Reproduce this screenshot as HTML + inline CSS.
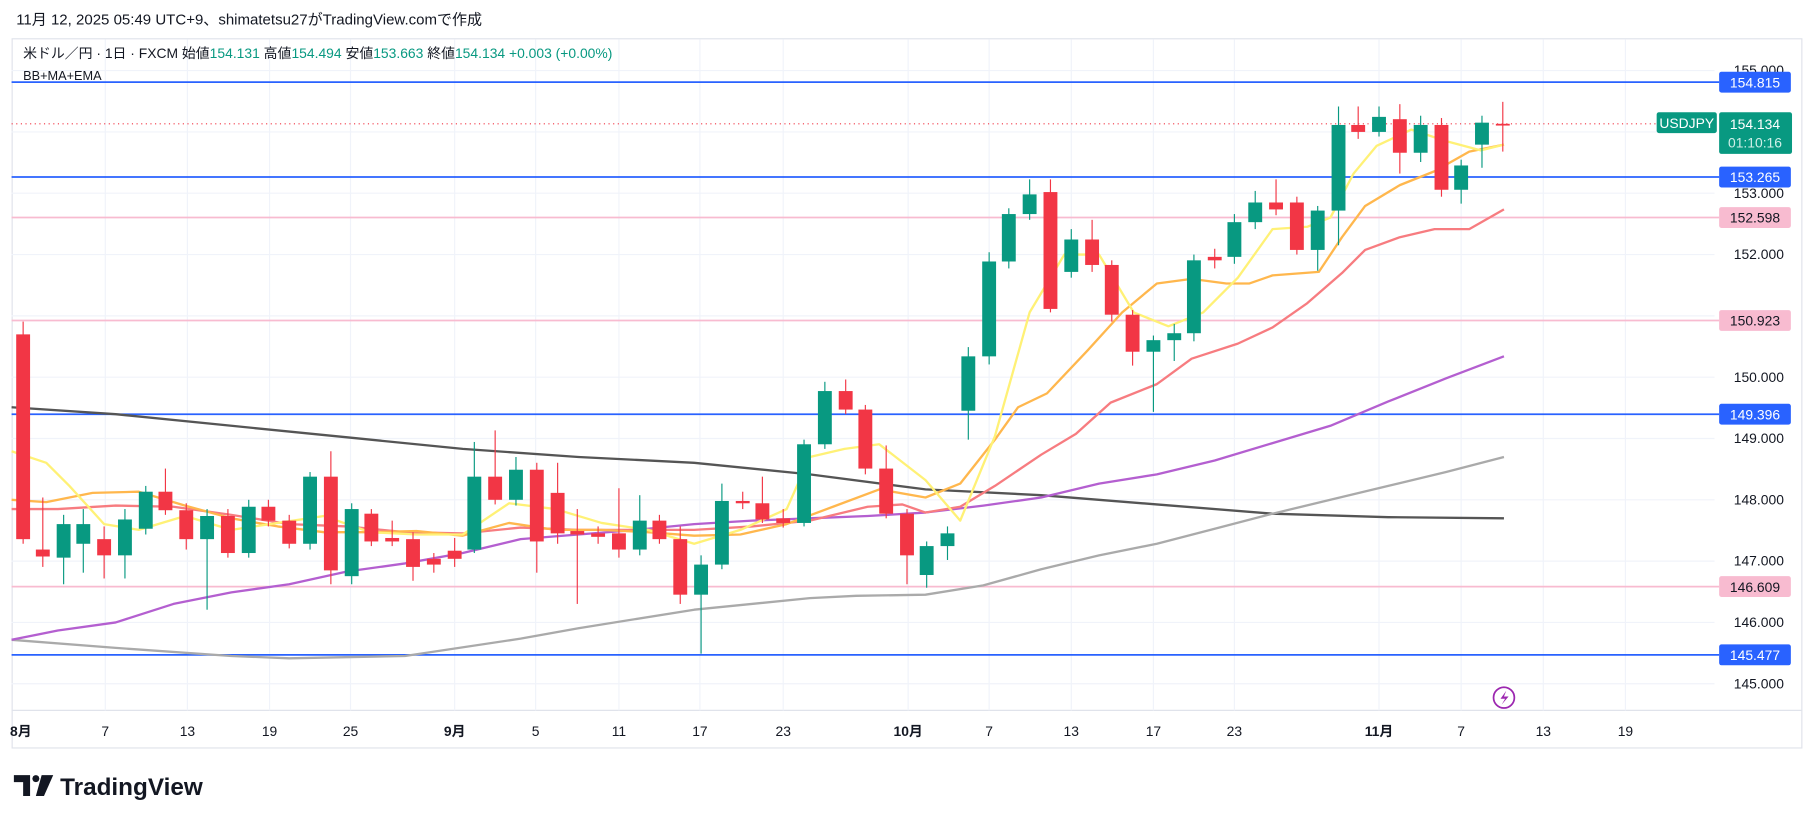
<!DOCTYPE html>
<html><head><meta charset="utf-8"><style>
html,body{margin:0;padding:0;background:#fff;}
svg{display:block;}
text{font-family:"Liberation Sans","Noto Sans CJK JP",sans-serif;}
</style></head><body>
<svg width="1814" height="824" viewBox="0 0 1568 712.2" xmlns="http://www.w3.org/2000/svg">
<rect width="1568" height="712.2" fill="#fff"/>
<text x="14" y="21" font-size="13" fill="#131722">11月 12, 2025 05:49 UTC+9、shimatetsu27がTradingView.comで作成</text>
<rect x="10.5" y="33.5" width="1547" height="613" fill="none" stroke="#e0e3eb"/>
<line x1="10" y1="614" x2="1558" y2="614" stroke="#e0e3eb"/>
<g stroke="#f0f3fa" stroke-width="1">
<line x1="10" y1="61" x2="1482" y2="61"/><line x1="10" y1="114" x2="1482" y2="114"/><line x1="10" y1="167" x2="1482" y2="167"/><line x1="10" y1="220" x2="1482" y2="220"/><line x1="10" y1="273" x2="1482" y2="273"/><line x1="10" y1="326" x2="1482" y2="326"/><line x1="10" y1="379" x2="1482" y2="379"/><line x1="10" y1="432" x2="1482" y2="432"/><line x1="10" y1="485" x2="1482" y2="485"/><line x1="10" y1="538" x2="1482" y2="538"/><line x1="10" y1="591" x2="1482" y2="591"/>
<line x1="91" y1="34" x2="91" y2="614"/><line x1="162" y1="34" x2="162" y2="614"/><line x1="233" y1="34" x2="233" y2="614"/><line x1="303" y1="34" x2="303" y2="614"/><line x1="393" y1="34" x2="393" y2="614"/><line x1="463" y1="34" x2="463" y2="614"/><line x1="535" y1="34" x2="535" y2="614"/><line x1="605" y1="34" x2="605" y2="614"/><line x1="677" y1="34" x2="677" y2="614"/><line x1="785" y1="34" x2="785" y2="614"/><line x1="855" y1="34" x2="855" y2="614"/><line x1="926" y1="34" x2="926" y2="614"/><line x1="997" y1="34" x2="997" y2="614"/><line x1="1067" y1="34" x2="1067" y2="614"/><line x1="1192" y1="34" x2="1192" y2="614"/><line x1="1263" y1="34" x2="1263" y2="614"/><line x1="1334" y1="34" x2="1334" y2="614"/><line x1="1405" y1="34" x2="1405" y2="614"/>
</g>
<text x="20" y="50" font-size="12" fill="#131722">米ドル／円 · 1日 · FXCM  始値<tspan fill="#089981">154.131</tspan>  高値<tspan fill="#089981">154.494</tspan>  安値<tspan fill="#089981">153.663</tspan>  終値<tspan fill="#089981">154.134  +0.003 (+0.00%)</tspan></text>
<text x="20" y="69" font-size="11" fill="#131722">BB+MA+EMA</text>
<g stroke-width="1.5">
<line x1="10" y1="71" x2="1486" y2="71" stroke="#2962ff"/>
<line x1="10" y1="153" x2="1486" y2="153" stroke="#2962ff"/>
<line x1="10" y1="358" x2="1486" y2="358" stroke="#2962ff"/>
<line x1="10" y1="566" x2="1486" y2="566" stroke="#2962ff"/>
<line x1="10" y1="188" x2="1486" y2="188" stroke="#f8bbd0"/>
<line x1="10" y1="277" x2="1486" y2="277" stroke="#f8bbd0"/>
<line x1="10" y1="507" x2="1486" y2="507" stroke="#f8bbd0"/>
</g>
<line x1="10" y1="107" x2="1486" y2="107" stroke="#f23645" stroke-dasharray="1,3" stroke-width="1"/>
<g fill="none" stroke-width="2" stroke-linejoin="round">
<polyline stroke="#555" points="10,352 100,358 200,368 300,378 400,388 500,395 600,400 700,410 800,423 900,428 1000,436 1100,444 1200,447 1300,448"/>
<polyline stroke="#aaa" points="10,553 100,560 200,567 250,569 350,567 450,552 500,543 600,527 700,517 740,515 800,514 850,506 900,492 950,480 1000,470 1050,457 1100,444 1150,432 1200,420 1250,408 1300,395"/>
<polyline stroke="#b45fd0" points="10,553 50,545 100,538 150,522 200,512 250,505 300,494 350,487 400,478 450,466 500,462 550,458 600,453 650,450 700,448 750,446 800,443 850,437 900,430 950,418 1000,410 1050,398 1100,383 1150,368 1200,347 1250,327 1300,308"/>
<polyline stroke="#f77c80" points="10,440 50,440 100,437 150,438 200,445 250,453 300,455 350,460 400,461 450,456 500,458 550,458 600,458 650,455 700,450 750,438 780,436 800,443 830,438 860,420 900,393 930,375 960,348 1000,332 1030,310 1070,297 1100,283 1130,262 1160,236 1180,216 1210,205 1240,198 1270,198 1300,181"/>
<polyline stroke="#ffb74d" points="10,432 40,434 80,426 120,425 160,437 200,448 240,455 280,460 320,460 360,459 400,463 440,452 480,458 520,458 560,460 600,463 640,462 680,453 720,438 760,423 800,430 830,418 860,380 880,352 905,340 940,303 970,270 1000,245 1030,241 1060,245 1080,245 1100,238 1140,235 1160,205 1180,178 1210,160 1240,148 1270,131 1300,125"/>
<polyline stroke="#fff176" points="10,390 40,400 60,420 90,453 120,458 160,446 200,458 240,452 280,446 320,460 360,462 400,462 440,435 480,440 520,452 560,458 600,470 640,458 680,440 700,395 730,388 760,384 800,415 830,450 860,377 890,270 920,220 950,220 980,270 1010,282 1040,270 1070,240 1100,198 1130,196 1150,188 1170,150 1190,126 1220,112 1250,122 1280,130 1300,125"/>
</g>
<g id="c"></g>
<g font-size="12" fill="#131722" text-anchor="end">
<text x="1542" y="65">155.000</text><text x="1542" y="171">153.000</text><text x="1542" y="224">152.000</text><text x="1542" y="330">150.000</text><text x="1542" y="383">149.000</text><text x="1542" y="436">148.000</text><text x="1542" y="489">147.000</text><text x="1542" y="542">146.000</text><text x="1542" y="595">145.000</text>
</g>
<rect x="1486" y="62" width="62" height="18" rx="2" fill="#2962ff"/><text x="1517" y="75.5" font-size="12" fill="#fff" text-anchor="middle">154.815</text>
<rect x="1486" y="144" width="62" height="18" rx="2" fill="#2962ff"/><text x="1517" y="157.5" font-size="12" fill="#fff" text-anchor="middle">153.265</text>
<rect x="1486" y="349" width="62" height="18" rx="2" fill="#2962ff"/><text x="1517" y="362.5" font-size="12" fill="#fff" text-anchor="middle">149.396</text>
<rect x="1486" y="557" width="62" height="18" rx="2" fill="#2962ff"/><text x="1517" y="570.5" font-size="12" fill="#fff" text-anchor="middle">145.477</text>
<rect x="1486" y="179" width="62" height="18" rx="2" fill="#f8bbd0"/><text x="1517" y="192.5" font-size="12" fill="#131722" text-anchor="middle">152.598</text>
<rect x="1486" y="268" width="62" height="18" rx="2" fill="#f8bbd0"/><text x="1517" y="281.5" font-size="12" fill="#131722" text-anchor="middle">150.923</text>
<rect x="1486" y="498" width="62" height="18" rx="2" fill="#f8bbd0"/><text x="1517" y="511.5" font-size="12" fill="#131722" text-anchor="middle">146.609</text>
<rect x="1486" y="97" width="63" height="36" rx="2" fill="#089981"/><text x="1517" y="111.5" font-size="12" fill="#fff" text-anchor="middle">154.134</text><text x="1517" y="127.5" font-size="12" fill="#d0efe8" text-anchor="middle">01:10:16</text>
<rect x="1432" y="97" width="52" height="18" rx="2" fill="#089981"/><text x="1458" y="110.5" font-size="12" fill="#fff" text-anchor="middle">USDJPY</text>
<g font-size="12" fill="#131722" text-anchor="middle">
<text x="18" y="636" font-weight="bold">8月</text><text x="91" y="636">7</text><text x="162" y="636">13</text><text x="233" y="636">19</text><text x="303" y="636">25</text><text x="393" y="636" font-weight="bold">9月</text><text x="463" y="636">5</text><text x="535" y="636">11</text><text x="605" y="636">17</text><text x="677" y="636">23</text><text x="785" y="636" font-weight="bold">10月</text><text x="855" y="636">7</text><text x="926" y="636">13</text><text x="997" y="636">17</text><text x="1067" y="636">23</text><text x="1192" y="636" font-weight="bold">11月</text><text x="1263" y="636">7</text><text x="1334" y="636">13</text><text x="1405" y="636">19</text>
</g>
<circle cx="1300" cy="603" r="9" fill="none" stroke="#9c27b0" stroke-width="1.5"/><path d="M1302,597 L1297,604 L1301,604 L1298,609 L1304,602 L1300,602 Z" fill="#9c27b0"/>
<path d="M12,670 h14 v18 h-6 v-12 h-8 z" fill="#131722"/><circle cx="31" cy="673" r="3" fill="#131722"/><path d="M36,670 h10 l-8,18 h-7 z" fill="#131722"/>
<text x="52" y="687" font-size="21" font-weight="bold" fill="#131722">TradingView</text>
</svg>
<script>
var d=[[20,289,466,278,470],[37,475,481,430,490],[55,482,453,445,505],[72,470,453,440,495],[90,466,480,455,500],[108,480,449,440,500],[126,457,425,420,462],[143,425,441,405,445],[161,441,466,435,475],[179,466,446,440,527],[197,446,478,440,482],[215,478,438,432,482],[232,438,450,432,455],[250,450,470,445,474],[268,470,412,408,475],[286,412,493,390,505],[304,498,440,435,505],[321,444,468,440,472],[339,465,468,450,472],[357,466,490,460,502],[375,483,488,478,495],[393,476,483,465,490],[410,475,412,382,478],[428,412,432,372,436],[446,432,406,395,437],[464,406,468,400,495],[482,426,461,400,470],[499,459,462,440,522],[517,461,464,455,470],[535,461,475,422,482],[553,475,450,428,480],[570,450,466,445,470],[588,466,514,455,522],[606,514,488,480,565],[624,488,433,418,492],[642,433,435,425,440],[659,435,449,412,452],[677,448,452,440,456],[695,452,384,380,455],[713,384,338,330,388],[731,338,354,328,358],[748,354,405,350,410],[766,405,444,385,448],[784,444,480,440,505],[801,497,472,468,508],[819,472,461,455,484],[837,355,308,300,380],[855,308,226,218,315],[872,226,185,180,232],[890,185,168,155,190],[908,166,267,155,270],[926,235,207,198,240],[944,207,229,190,235],[961,229,272,225,278],[979,272,304,268,316],[997,304,294,290,356],[1015,294,288,280,312],[1032,288,225,220,295],[1050,222,225,215,232],[1067,222,192,185,228],[1085,192,175,165,198],[1103,175,181,155,186],[1121,175,216,170,220],[1139,216,182,178,234],[1157,182,108,92,212],[1174,108,114,92,120],[1192,114,101,92,118],[1210,103,132,90,150],[1228,132,108,100,140],[1246,108,164,102,170],[1263,164,143,138,176],[1281,125,106,100,145],[1299,107,108,88,131]];
var NS='http://www.w3.org/2000/svg',g=document.getElementById('c');
d.forEach(function(c){var up=c[2]<c[1];var col=up?'#089981':'#f23645';var t=Math.min(c[1],c[2]),h=Math.max(Math.abs(c[2]-c[1]),1.5);
var l=document.createElementNS(NS,'line');l.setAttribute('x1',c[0]);l.setAttribute('x2',c[0]);l.setAttribute('y1',c[3]);l.setAttribute('y2',c[4]);l.setAttribute('stroke',col);l.setAttribute('stroke-width','1');g.appendChild(l);
var r=document.createElementNS(NS,'rect');r.setAttribute('x',c[0]-6);r.setAttribute('y',t);r.setAttribute('width',12);r.setAttribute('height',h);r.setAttribute('fill',col);g.appendChild(r);});
</script>
</body></html>
